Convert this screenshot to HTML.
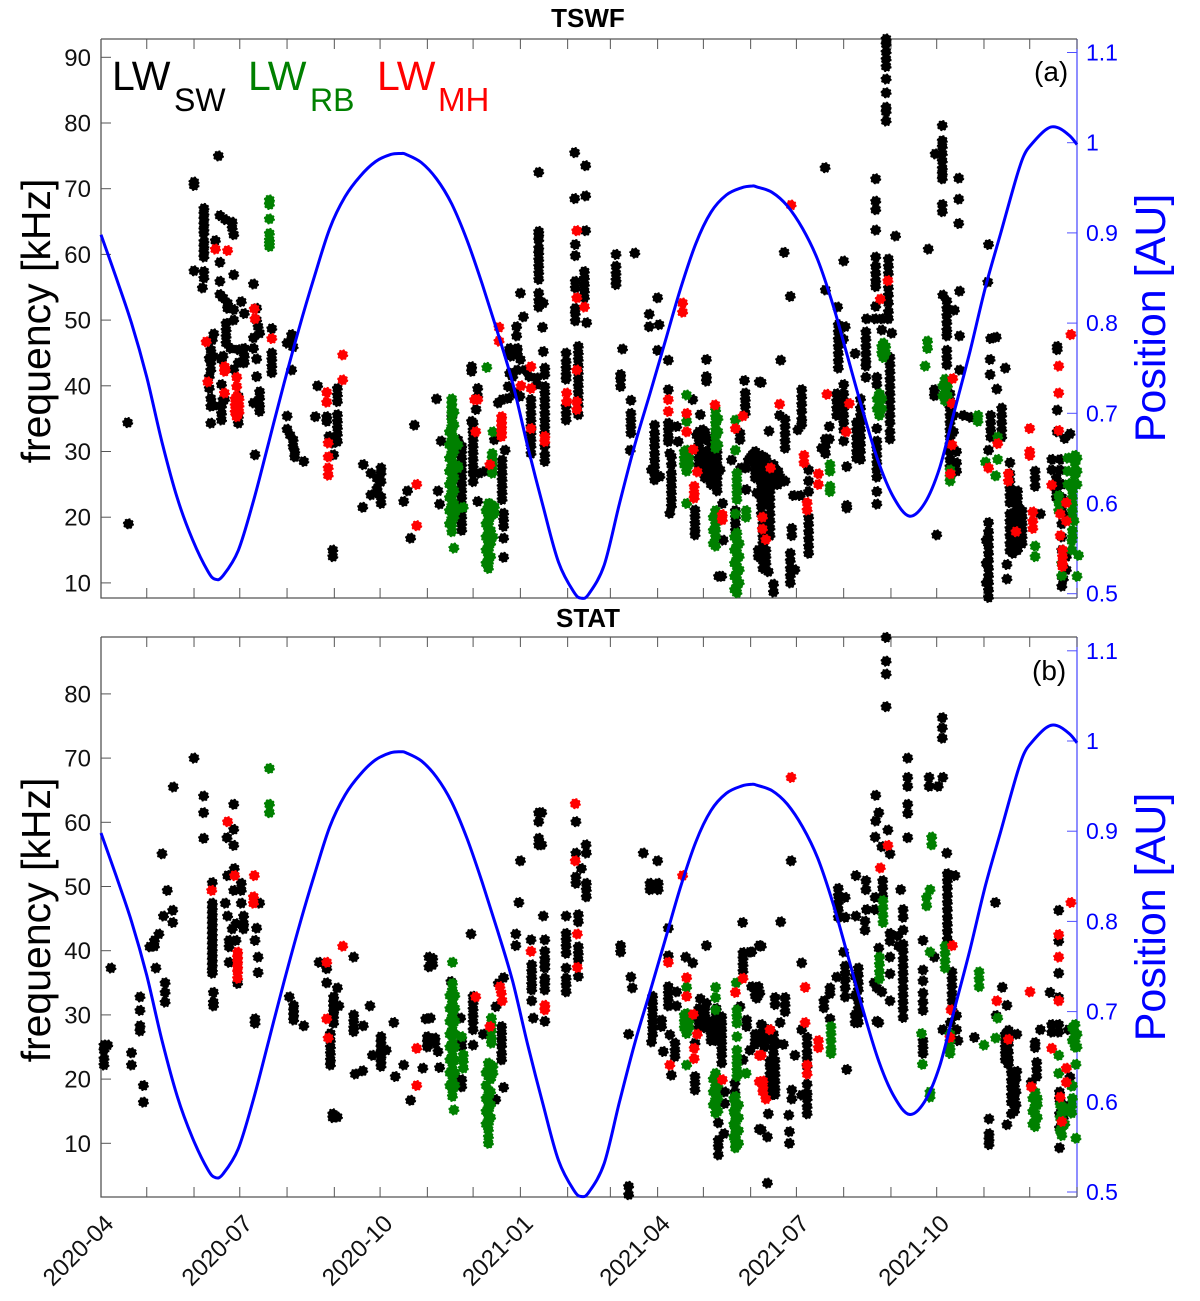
<!DOCTYPE html>
<html lang="en">
<head>
<meta charset="utf-8">
<title>TSWF and STAT Langmuir wave frequency</title>
<style>
html,body{margin:0;padding:0;background:#fff;}
svg{display:block;font-family:"Liberation Sans",sans-serif;}
</style>
</head>
<body>
<svg id="chart" xmlns="http://www.w3.org/2000/svg" width="1200" height="1301" viewBox="0 0 1200 1301">
<rect x="0" y="0" width="1200" height="1301" fill="#fff"/>
<g id="axes"></g>
<g id="marks"></g>
<g id="curves"></g>
<text x="588" y="27" font-size="26" font-weight="bold" text-anchor="middle">TSWF</text>
<text x="588" y="627" font-size="26" font-weight="bold" text-anchor="middle">STAT</text>
<text transform="translate(50,321) rotate(-90)" font-size="41" text-anchor="middle">frequency [kHz]</text>
<text transform="translate(50,920) rotate(-90)" font-size="41" text-anchor="middle">frequency [kHz]</text>
<text transform="translate(1165,318) rotate(-90)" font-size="43" fill="#0000ff" text-anchor="middle">Position [AU]</text>
<text transform="translate(1165,917) rotate(-90)" font-size="43" fill="#0000ff" text-anchor="middle">Position [AU]</text>
<text x="1034" y="81" font-size="28">(a)</text>
<text x="1032" y="680" font-size="28">(b)</text>
<g>
<text x="112" y="90" font-size="41" fill="#000">LW</text>
<text x="174" y="111" font-size="32" fill="#000">SW</text>
<text x="248" y="90" font-size="41" fill="#008000">LW</text>
<text x="310" y="111" font-size="32" fill="#008000">RB</text>
<text x="377" y="90" font-size="41" fill="#ff0000">LW</text>
<text x="438" y="111" font-size="33" fill="#ff0000">MH</text>
</g>
</svg>
<script>
// Each row: [days since 2020-04-01, frequency kHz, frequency kHz, ...]
const tswfBlack = [
[17.5,34.4],[18,19],[77,75],[61,70.5,71],
[67.5,67,66.2,65.4,64.6,63.8,63.2,62,61.2,60.4,59.6,57.4,56.4],[61,57.5],[66.5,54.9],[75,62.1],
[78,65.9,58.8,55.9,53.9],[87,63,56.9,51.6,50,42.5],[80,53.4,44.5,37.9],[83,52.6,51.8],[92,52.8],[94,51],[100,55.5],[81.5,65.3],[86,64.9,64],
[102,51.8,50,44.1,41.4],[103,49],[104,48,39.1,38.1,37,36.1],[100,47.3,45.7,37.4],[101,29.5],
[82,49.5,48.5,47.5,46.5],[85,45.7],[90,45.5,43.5,38.4,36,35.3,34.3],[94,45.7,44.5,43.5],
[74,47.9,37],[73,47],[72,45.5,43.5,42.4,38.1,36.9,34.3],[71,44.2,41.4,39.6],[73.5,44.5],
[79,40.2,36.9,35.8,34.8,44],[81,37.9],
[112,48.7,45,44,43,42],[125,47.8,42.4],[124,46.8],[122,46.5,35.4,33.4],[126,45.9,31.8,30.8],[124,32.5],[127,30,29.2],[133,28.5],
[142,40],[140.5,35.3],[148,35.3,34.6],[155,39.6,38.6,37.6,35.6,34.6,33.6,32.6,31.5],[149.5,32.3],[152,31.3,15,14],[152.5,29.5],[205.5,34],
[172,28],[183.6,27.5,26.7,25.4,23.1,22.1],[177,26.7,23.4],[181,25.9,24.4,23.7],[171.6,21.5],[198.5,22.4],[201,24],[203,16.8],
[220,38],[222,22],[221,24],[223,31.6],[230,35.3],[236.5,30.8,30,29,28,27,26,25,24,23,22,21,20,19,18],[234,31.8],
[243,42.9,42.2,34.6],[244,34.3,33.3,32.8,31.8,30.8,29.8,28.8,27.8,26.8,26.7,25.4],[247,39.6,38.4,22.4],[246,36.4],[248,26.7],[252,27],
[263,37.9,28.7,27.7,26.7,25.7,24.7,23.7,22.7],[260.5,37.4],[267,38.1,45,39.9],[258,31.8],[265,30.2],[264,20.6,19.6,18.6,16.8,13.9],
[287,72.5,63.5,63,62.2,61,60.2,59.2,58.2,57.2,56.2,54.1,53,52],[290,52.6,45.2],[289.5,48.9],[291,42.7,41.7,39.9,38.9,37.9,36.9,35.8,34.8,33.8,32.8,30.8,28.5,29.5],
[275,54.1,44],[277,50.5],[272.5,49,47.6],[268,45.7,41.9],[273,45.7,45,42.4],[269,44.5],[278,42.4],[271.5,38.9],[270,41.4],[281,41.4],[285.7,41.2,40.2],[274.7,38.4],
[282,37.9,36.9,35.8,34.8,33.8,32.8,31.8,30.8,29.7],
[305,45,43.7,42.7,41.7,41,36.9,35.8,34.8],[313,46,45,44,43,42,41,40,39,38,37,35.6],
[310.6,75.5,68.5],[317.8,73.5,68.9,63.6],[311,61.5,59.8,55.9,54.9,51.8,51,49.9],[317,57.4,56.4,55.4,54.4,53.4],[318.4,49.6],
[337.7,60,58.2,57.1,56.1,55.4],[350,60.2],[342,45.6],[340.7,41.7,41,39.9],[347.5,37.8,35.8,34.8,33.8,32.8],[347,30.2],
[365,53.4,45.4],[359.5,50.9,49],[366,49.3],[372,43.9,39.4,34.3,33.3,32.3,31.5],
[363,34,32.8,31.8,30.8,29.7,28.7,27.7,26.7,25.7],[361,27.2],[366.5,26.2],[373,29.7,20.6],[374,29.2,28,26.7,25.7,24.7,23.7,22.7,21.7],[377.5,33.8],[378.5,31.5],
[388,37.9],[393,35.6,29.7],[389.5,21.1,20.1,19.1,18.1,17.3],[397,44,41.4,40.7,31.8,28.7],[407.6,22.1],
[394.5,33.3],[390.6,32.5],[401,30.8],[401.5,28.7,25.7],[404,27.2],[406,27.2],
[392,33,32,31,30,29,28],[396,33,32,30,29,28,27,26],[400,32,31,30,28,27,26,25],[404,31,30,29,28,26,25,24],
[422,40.8],[422.5,38.9,37.9,36.9,35.8],[431.7,40.6],[407,11],[405,11],[416,21,20,19,18],[408,16.5],
[419,32.8,31.8],[413.5,28.7],[424.5,28.7],[419.5,27.5],[423,27.5,24.2],[430,23.7],
[429,30,29,28,27,26],[436,29,28,27,26,25,24,23,22],[441,28,27,26,25],[444,27,26,25],[434,19,18,17,16],[431,15,14],[436,15,14,13],
[433,40.5,29.4,28.3,27.2,26.1,25,23.9,22.8,21.7,20.5],[438.7,26.1,25,23.9,22.8,21.7,20.5,19.4,18.3,17.2],[434,14.5,13.4,12.2],[437.6,11.7],[441,9.8,8.6],[448.6,25.5],[445.3,26.1],[438,33.1],[426.7,29.4],
[448.6,34.9,33.8,32.7,31.6,30.5],[445,35.5],[453,18.3,17.2],[452,53.6,14.5,13.4,12.2,11.1,10],[455,12],[454,23.3],[458.4,23.3],
[459.5,39.4,38.3,37.2,36.1,34.9,34.1],[457,33.3],[448,60.3],[445.7,43.9],[464,27.2,25.5,23.9,20,18.9,17.8,16.7,15.6,14.5],
[474.8,73.2],[475,54.6,31.9,30.8,29.7],[477.6,33.8,31.9],[472.6,30.5],[487,59,40.2,38.8,37.7,36.6,35.5,34.4,33.3,31.6],[483,52],
[483.5,49.3,48.2,47.1,46,44.9,43.8,42.7],[488,49],[494.5,44.9],[486.8,47.1],[482.4,38.8,37.7,36.6,35.5],[489,27.7,21.4,21.8],
[498,38,36.6,35.5,34.4,33.3,32.2,31.1,30,28.8],[495.5,34.4,33.3,32.2,31.1,30,29],
[501.6,48.2,47.1,46,44.9,43.8,43,41.3],[502,50.2],[507.6,50.2],[508,71.5,68.1,66.8,63.7,59.6,58.2,57.1,56,55.1,52.1],
[516.3,59.3,58.2,57.1,54.9,53.8,52.6,51.3,50.2],[518.5,48],[512,50.2,48.5],[517.4,44.3,43.2,42.1,41,39.9,38.8,37.7,36.6,35.5,34.4,33,31.9],
[508.7,41.3,40.2,33.5,31.6,30.5,29.4,28.3,27.2,26.1,23.9,22],[514.8,92.8,92,90.8,89.7,88.6,86.7,84.6,82.4,81.7,80.3],
[521,62.8],[542.5,60.8],[546.5,39.4,38.5],[551.7,79.6,77.3,76.4,75.3,74.2,73.1,72.3,71.5,67.6,66.5],[547,75.3],[552,53.8],
[554.6,52.9,51.8,50.7,49.6,48.5,47.6,45.4,44.3,43.2],[562.4,71.6,68.4,64.7],[563,54.4,47.6,42.4],[559.6,51.5],
[556.7,38.8,37.7,36.6,35.5,34.4,33.3,32.2,31.1,30,28.8,27.7],[561,28.3,30,27],[565.5,35.5],[570,35.2],[559,35.5,33],[548,17.3],
[582,61.5,30.2],[581.5,55.8],[583.4,47.2,35.5,34.4,33.3,32.2],[587,47.4],[583,44,41.7],[593,42.7],[587.4,39.5],[590.6,36.6,35.5,34.4,33.3,32.2],
[582,19.2,17.8,16.7,15.6,14.5,13.4,12.2,11.1,10,8.9,7.8],[580.5,16.5,13,10],[594,12.8,10.6],
[596,28.3,26.6,25.5,24.4,23.3,22.2,20.5,19.4,18.3,17.2,16,14.9],[600.5,21.1],[603,16.7],[600,15,15.5],[598,15,16,14.5],
[601,24,23,22,20,19,18,17,16,15],[604,21,20,19,18,17,16],
[612.5,27,25.9,24.7],[616,20.5],[627,46,45.5,36.3,33],[635.4,32.7],[623.5,28.8,27.2],[629,28.8,27.2],[630,25,23,21,19,17,15,13,11,9.5],[631,10.6],[633,20,14,12],[632,32],[626.5,26,25,24,23]
];
const tswfGreen = [
[110.4,68.3,67.6,65.4,63.2,62.2,61.7,61.2],
[230,38,37.3,36.6,35.8,34.8,33.8,32.8,31.8,30.8,29.8,28.8,27.8,26.8,25.8,24.8,23.8,22.8,21.8,20.8,19.8,18.8,17.8],[234,31,27.8,27.5],[237.5,21.5],[233,21],[231.4,15.3],
[231.5,36,34,32,30,28,26,24,22,20],[228.5,33,31,29,27,25,23,21,19],
[253,42.8],[257,33],[256.5,29.7,29,28.2,27.5,26.7],
[254,22.1,21.1,20.1,19.1,18.1,17.1,16.1,15.1,14.1,13.1,12.2],[258,21.6,20.6],[257,17],[255.5,22,20,18,16,14],[252.5,21,19,17,15,13],
[384,38.6,34.6,30.2,29.2,28.2,27,22.1],[385.5,30,29,28],[382.5,30,29,28],[403,36.3,35.3,34.3,33.3,32.3,31.3,30.5],[404.5,35,33,31],[416,34.8,30.2,20.5],
[417,26.7,25.7,24.7,23.7,22.7,17.6,16.6,15.6,14.6,13.6,12.5,11.5,10.5,9.5,8.5],[418.5,16,14,12,10],[415.5,17,15,13,11,9],[423,21,20],[403,21,20,19,18,17,15.6],[401.5,20,18,16],
[513,46.5,45.4,44.3],[512,46,45],[514.5,46,45],[510.4,38.8,37.7,36.6,35.5],[509,38,36.5],[512,38,36.5],[542,46.8,45.7],[540.4,43],[553.5,41,39.9,38.8,37.7],[552,40,38.5],[555,40,38.5],[575,35.5,34.6],
[588,32.2,28.8],[580,28.4],[586.6,26.3],[556.8,27.2,26.2,25.5],[478,28,27,24.7,23.9],[612.5,15.6,14],
[638.7,29.4,28.3,27.2,26.4],[636.5,25.2],[628,23.3,22.2,21],[638,19.4],[636.6,16.4,15],[641,14.2],[640,11],[630,11.1,13],[637,24,23,22,21,20,18,17],[634,29,27,25],[640,29,27,25]
];
const tswfRed = [
[69,46.7],[70,40.6],[75,60.8],[83,60.6],[81,42.9,42.2,38.9],[81.5,42.5],[89,41.3,39.9,38.4,37.6,36.9,36.1,35.3],[88,38,37,36],[90.5,38,37,36],[100.5,51.7],[101,50.2],[112,47.2],
[148,39,37.5],[149,31.3,29.2,27.5,26.4],[158.5,44.7,40.9],[207,25,18.7],
[247,37.9],[245,37.9],[245.7,33],[255,28],[261,48.9,46.8],[262.7,35.3,34.5,33.8,33,32.3],[275.4,40],[282,42.9,39.6,33.5],[291,32.3,31.5],
[305.3,38.9,37.6],[312,63.6,53.4,42.4,37.6,36.4],[317,52],[381.4,52.6,51.2],[372,37.9,36.1],[384,35.8,33],[402.6,37.1],[388.4,30.3],[391,26.9],
[389,24.7,23.7,22.9],[407.4,20.4,19.6],[421,35.4],[416,33.5],
[452.5,67.5],[445,37.2],[476,38.7],[490.7,37.3],[488.6,33],[516,56],[511,53.2],[439,27.5],[461,29.4,28.3],[470.4,26.6,25],[463,22.2,21.1],
[433.7,20,18.2],[436,16.6],[558.5,41.1],[558,37.3,31],[557,26.6],[588,31.2],[582,27.5],[595,26.6,25.5],[609,33.5,30,29.4],[600,17.8],[611,20.8,19.4,18.3],
[628,43,38.9,33.2],[636,47.8],[623.4,24.9],[633,22.2,19.4],[629,20.5,17.2],[630.5,15,14,13,12.5]
];
const statBlack = [
[2,25.3,24.5,23.2,22.2],[4.4,25.3],[6.5,37.3],[20,24.1,22.2],[25.6,32.8,30.7,28.3,27.5],[27.8,19,16.4],[32,40.6],[35,40.7,41.6],[38,42.6],[36,37.3],
[40,55.1],[43.5,49.4],[41,45.4],[47,46.3,44.4],[42,35,33.5,32],[47.4,65.5],[61,70],[67.3,64.1,61.5,57.5],
[73,50.6,47.4,46.6,45.8,45,44.2,43.4,42.6,41.8,41,40.2,39.4,38.6,37.8,37,36.5],[73.7,33.5,32,31.4],
[87,62.8,58.9,56.4,49.4],[82.6,57.6],[87.4,52.8],[83,51.7,45.4],[92,50.5,49.4,47.4],[81.5,47.4],[93.5,45.4,44.2,43.4],[88.5,44.2,41.6],[86,43.4],[84,41.6,40.6,38.2],[89.6,34.9],
[104,47.4],[102,43.5],[101,41.6,29.4,28.7],[103,39,36.6],[143,38.2],[148,37.2,35],[155,34.2],[152.5,32.8,32,31.3,30.5,29.7,28.7],[156,31.4],
[150.4,27.1,26,25,24,23,22.2],[165.7,39,30,29,28,27.4],[176.4,31.4],[172,28.3],[152,14.6,14],[155,14.1],
[183.6,26.6,25.8,25,24.2,23.5,22.7,22],[178,23.7],[187,24.5],[192,28.8],[198.5,22.2],[193,20.4],[171.6,21.3],[166.6,20.8],[203,16.7],[211,21.7],[213,29.4],[214,26.6,25.8,25],[215,39,37.5],
[123.5,32.8],[126.3,31.5,30.7,30,29.2],[133,28.3],
[217.5,38.8,37.8],[216,29.5],[219,26.4,25.6],[221,24.3],[222,21.8],[242.6,42.6],[244,32.9,31.9,30.9,29.9,28.9,27.7,25.3],[250.7,27],[229.5,35.2],[235.8,29.5],[236.5,26,25,19.9,18.8],
[264,35.8,18.7],[260.5,34.9],[259,31.3],[262.7,28.2,27.2,26.2,25.2,24,23],[258.8,16.8],[275,54],[274,47.5],[272,42.6,40.8],
[287,61.5,60.1,57.5,56.5],[289,61.5,56.5],[290,45.4],[282,41.7],[282.4,37.8,36.8,35.8,34.8,33.9,32.2],[283.5,29.5],
[291,41.7,39.9,38.8,38,37.3,35.7,34.9,33.9,29],[305,45.4,42.7,41.7,40.7,39.6,37.3,35.7,34.7,33.6],[313,45.6,44.5,40.6,39.6,38.6,36],
[311.4,60.1,55.2,51.5,50.5],[318,56.5],[318.2,55.2,50.5,49.5,48.4],[315,52.8],[340.7,40.8,39.8],[347.5,35.9],[348.4,34.2],[346,27,3.3,2],
[355.6,55.2],[365,54],[360,50.5,49.5],[365.4,50.5,49.5],[372,43.5,39.2,34.4,33.4,32.4,31.4],[397,40.8,31.8],[420.7,44.4],[421,39.7,38.8,37.8,36.8],[425.5,39.8,24.5],[431.7,40.8],
[361.7,32.9,31.9,30.9,29.9,28.9,27.9,26.9],[361,25.8],[367.6,29.2,28.2],[368.7,24.3],[373,26.9],[376.4,25.6,24.5,23.5],[374,20.6],[377.4,33.6,31.4],[383.4,39],[388,38.1],
[389.5,25.6,20.4,19.4,18.3],[393,32.5],[400,29,28,27,26],[407,29.7,28.7,27.7,26.7,25.7,24.7,23.7,22.5],[409,18,16.2],[404.8,13.2,10.5,9.5,8.2],[408.5,11.5],
[415.7,19.4,18],[419,31.3],[423.4,29.2,28.2],[426.6,34.4],[431,34.4],[429,33],[421,23],[431.7,12.2],
[392,31,30,29,28],[396,31,30,29,28],[403.5,31,30,29,28,27,26],
[514.8,88.8,85.1,83.1,78],[452.5,54],[445.7,44.5],[433,40.7,28.5,27.1,26,12.1],[426.7,39.8],[459.5,38.1,27.7,17.5],[430,34.2,33.4,32.6],[432,33.4],
[429,27,26],[435,28,27,26,25],[441,27,26,25,24],
[442,32.7,31.6,22.9,21.8,20.7,19.6,18.5,17.6],[448.6,32.7,31.6,30.5],[445.3,28.8],[438.7,27.7,26.3,22.8,22,20.8,19.7,18.5,17.5],[429,25.4],[443,25.6],[447.5,25.4],[437.6,14.6],[437,11,3.8],
[453,18.3,16.9],[451,14.4],[451.4,11.8,10],[455,23.7],[463,26.5,25.4,24.2,23.2,22,19.2,17.8,16.9,15.7,14.6],
[489,21.5],[474,32.2,31.1],[478,34.2,33.3,29.4],[483.5,49.7,48.6,47.5,46.4,45.2],[488,48.3,45.2],[495,51.7,45.4],[501.6,50.9,49.5],[507.6,48.3,46.4],[502,46.4],[501,44.6,43.2],
[508,64.2,60.2],[510,61.5],[507.6,57.7],[512,56.2,33.6],[516,58.8],[517.4,55.1,42.7,41.5,39,36.4,32.2],[512.6,50.9,49.8,48.6],[524.4,49.5],
[487,39.8],[482.4,35.9],[488,37.6,36.5,35.4,34.2,32.8],[496.6,37.3,36.2,35,33.9,32.2,31,30,28.8],[494.5,36,33,30,28.8],
[508.7,34.2,29],[510,40.4],[507,35],[510,28.8],[523,40.7],[526,41,39.9,38.7,37.6,36.5,35.4,34.2,33.1,32,30.9,29.6,46.4,45.2,43.2],[522.5,42.3],
[529,70,67,65.6,62.8,61.4,57.6],[543,67,65.6],[549,65.6],[552,67],[551.7,76.3,74.7,73.1],[554.6,55.2],[539,41.6,37,35.3,33.4,32,30.7,26,25,24],[546.5,39],
[555,52,50.9,49.8,48.6,47.5,46.4,45.2,44.1,43,41.8],[560,51.7],[558,36.7,35.6,34.5,33.3,32.2,31],[561,29.9,27.7],[557,28.8,26.5],[552,27.7],[562,26],
[572.7,26.5],[586.5,47.5],[591,34.3],[587,29.9],[594,31.5,12.9],[595,27.6,26.5,25.4,24.2,23.1,22.3],[600.5,27,21.2],[597,21,19.8,18.7,17.5,16.4,14.6],[600,20,18,16],
[593,27,26,25,24,23],[599,20,19,18,17,16,15],
[582.3,13.8,11.5,10.6,9.8],[612.5,25.7,24.9],[616,27.7],[623.4,28.5,27.3],[628,28.5,27.3,32.7,46.3,41.5,36.5],[634.4,27.7],[613.6,22.6,21.5,20.4],[610,19.5],[622.3,33.5],
[628.5,18,16.9,14.6,12.4,9.3],[635.4,20.3],[631,16,14]
];
const statGreen = [
[110.4,68.4,62.8,61.5],
[230.4,38.2,34.9,33.9,32.9,31.9,30.8,29.8,28.8,27.7,26.7,25.6,24.6,23.6,22.5,21.5,20.5,19.5,18.3,17.3],[231.4,15.2],[237.6,23.8,22.8,21.7],[236.5,26.6],[228.8,33,31,29,27,25,23,21,19],[232,33,31,29,27,25,23,21,19],
[256,29.5,28.5,27.5,26.4,25.6],[254,22.5,21.5,20.4,18.3,17.3,16.2,15.2,14.2,13.1,12.1,11,10],[257,22,20.9],[252.5,21,19,17,15,13],[255.5,20,18,16,14],
[384,34.3,30.2,29.2,28.2,27.1,22.2],[382.5,30,29,28],[385.5,30,29,28],[403,34.3,32.7,30.8,20.9,19.9,18.9,17.8,16.8,15.8,14.7],[401.5,20,18,16],[404.5,19,17,15],[416.6,35],[417,30.8,29.8,28.7,26.6,24.5,23.4,22.4,21.4,20.4],[423,20.9],
[416,17.3,16.3,15.2,14.2,13.2,12.2,11.1,10.1,9.3],[415,17,15,13,11],[418,16,14,12,10],
[544.7,57.7,56.5],[543.6,49.5,39.8,18,17.2],[541.4,47,48.3],[553.5,40.7,39.6,38.4,37.3],[538,27.1],[538.6,22.3],[556.7,27,25.9,24.8,24],
[512.8,47.8,46.7,45.5,44.4],[510.4,39,37.9,36.7,35.6],[478.7,28.2,27.1,26,24.8,24],[588,29.5],[586.7,26.4],[579,25.3],[575.8,36.7,35.6,34.4],
[612.5,18,16.9,15.8,14.6,13.5,12.6],[614,17],[611,17,15,13],[614,16,14],[628,23.7,20.9],[639.3,22.3,10.8],[638.7,28.5,27.1,26,25],[636.5,18.9,15.8,14.7],[630,15.8,14.7,13.6,12.4,11.2],[629,16,14,12],[632,15,13],[637,28,26,19,17],[640,27,25]
];
const statRed = [
[83,60.1],[87.6,51.7],[100.5,51.7],[72.6,49.4],[100,48.4,47.4],[89.6,39.8,39,38.3,37.5,36.7,35.7],[148,38.2,29.4],[158.5,40.7],[149,26.4],[207,24.8,19],
[311,62.9,54],[312.3,42.6,37.4],[245.7,32.8],[255,28.2],[261.6,34.4],[262.5,33.4],[263,32.2],[282,39.9],[291,31.5,30.8],[381.4,51.7],[372,38.2],[384,35.8,32.9],[388.4,30.1],[391,27],[389,24.8,23.2],[373,22.2],[421,35.7],[416,33.5],[407.4,19.9],[431.7,23.7,19.6],
[452.5,67],[511,52.9],[516,56.4],[461.7,34.3,28.8],[438.7,27.7],[433,23.7],[434,19.7,18.8,18],[436,16.9],[463,22.2,20.8],[470.4,26,24.9],[558.3,40.8],[557.4,30.8],[556.7,26.5],[595,26.2],[609.2,33.6],[587.4,32.2],[610,18.8],[628,42.5,39,32.2],[636,47.5],[623.4,24.8],[633,21.7,19.5],[629,17.2],[630,13.4]
];
// Spacecraft heliocentric distance
const orbitDays = [0,10,20,30,40,50,60,70,75,80,90,100,110,120,130,140,150,160,170,180,190,197,200,210,220,230,240,250,260,270,280,290,300,310,315,320,330,340,350,360,370,380,390,400,410,420,427,430,440,450,460,470,480,490,500,510,520,530,540,550,560,570,580,590,600,605,610,620,627,635,640];
const orbitAU = [0.898,0.85,0.80,0.74,0.668,0.606,0.56,0.525,0.516,0.52,0.548,0.603,0.668,0.733,0.795,0.852,0.905,0.94,0.963,0.979,0.987,0.988,0.987,0.978,0.96,0.932,0.892,0.843,0.79,0.733,0.662,0.596,0.535,0.502,0.495,0.50,0.532,0.60,0.665,0.722,0.78,0.838,0.888,0.923,0.942,0.95,0.952,0.951,0.945,0.93,0.905,0.87,0.82,0.76,0.70,0.645,0.606,0.586,0.60,0.64,0.705,0.77,0.84,0.90,0.96,0.985,0.998,1.015,1.017,1.008,0.998];
// Axis ticks
const monthTickDays = [0,30,61,91,122,153,183,214,244,275,306,334,365,395,426,456,487,518,548,579,609,640];
const dateLabels = ["2020-04","2020-07","2020-10","2021-01","2021-04","2021-07","2021-10"];
const dateLabelDays = [0,91,183,275,365,456,548];
const freqTicksA = [10,20,30,40,50,60,70,80,90];
const freqTicksB = [10,20,30,40,50,60,70,80];
const auTicks = [0.5,0.6,0.7,0.8,0.9,1,1.1];

const NS = 'http://www.w3.org/2000/svg';
const PLOT = {left:101,right:1077};
const xDay = d => PLOT.left + d * (PLOT.right - PLOT.left) / 640;
const panels = [
  {id:'a',top:39,bottom:598,y:f => 57.3 + (90 - f) * 6.57,au:p => 593.7 - (p - 0.5) * 902,ticks:freqTicksA,black:tswfBlack,green:tswfGreen,red:tswfRed},
  {id:'b',top:637,bottom:1197,y:f => 1143.3 - (f - 10) * 6.42,au:p => 1192 - (p - 0.5) * 902,ticks:freqTicksB,black:statBlack,green:statGreen,red:statRed}
];
const axesLayer = document.getElementById('axes');
const marksLayer = document.getElementById('marks');
const curveLayer = document.getElementById('curves');

function svgEl(tag, parent, attrs){
  const el = document.createElementNS(NS, tag);
  Object.keys(attrs).forEach(k => el.setAttribute(k, attrs[k]));
  parent.appendChild(el);
  return el;
}
function smoothPath(xs, ys){
  let d = 'M' + xs[0].toFixed(1) + ' ' + ys[0].toFixed(1);
  for (let i = 0; i < xs.length - 1; i++) {
    const a = Math.max(i - 1, 0), c = i + 1, e = Math.min(i + 2, xs.length - 1);
    const c1x = xs[i] + (xs[c] - xs[a]) / 6, c1y = ys[i] + (ys[c] - ys[a]) / 6;
    const c2x = xs[c] - (xs[e] - xs[i]) / 6, c2y = ys[c] - (ys[e] - ys[i]) / 6;
    d += 'C' + [c1x, c1y, c2x, c2y, xs[c], ys[c]].map(v => v.toFixed(1)).join(' ');
  }
  return d;
}
function drawSeries(panel, rows, color, seriesName){
  const group = svgEl('g', marksLayer, {fill:color,stroke:color,'stroke-width':1.5,'stroke-dasharray':'1.885 1.885'});
  
  
  rows.forEach(row => {
    row.slice(1).forEach(freq => {
      const dot = svgEl('circle', group, {cx:xDay(row[0]).toFixed(1),cy:panel.y(freq).toFixed(1),r:4.8});
      
      
    });
  });
}
panels.forEach(panel => {
  const gray = '#555';
  const frame = svgEl('path', axesLayer, {d:`M${PLOT.left} ${panel.top}H${PLOT.right}M${PLOT.left} ${panel.top}V${panel.bottom}H${PLOT.right}`,fill:'none',stroke:gray,'stroke-width':1.3});
  
  
  const rightAxis = svgEl('line', axesLayer, {x1:PLOT.right,x2:PLOT.right,y1:panel.top,y2:panel.bottom,stroke:'#5050ff','stroke-width':1.3});
  
  
  monthTickDays.forEach(d => {
    const x = xDay(d);
    const t1 = svgEl('line', axesLayer, {x1:x,x2:x,y1:panel.top,y2:panel.top + 10,stroke:gray,'stroke-width':1});
    
    
    const t2 = svgEl('line', axesLayer, {x1:x,x2:x,y1:panel.bottom,y2:panel.bottom - 10,stroke:gray,'stroke-width':1});
    
    
  });
  panel.ticks.forEach(f => {
    const y = panel.y(f);
    const tick = svgEl('line', axesLayer, {x1:PLOT.left,x2:PLOT.left + 10,y1:y,y2:y,stroke:gray,'stroke-width':1});
    
    
    const label = svgEl('text', axesLayer, {x:PLOT.left - 10,y:y + 8.5,'font-size':24,'text-anchor':'end',fill:'#111'});
    
    
    label.textContent = f;
  });
  auTicks.forEach(p => {
    const y = panel.au(p);
    const tick = svgEl('line', axesLayer, {x1:PLOT.right - 10,x2:PLOT.right,y1:y,y2:y,stroke:'#5050ff','stroke-width':1});
    
    
    const label = svgEl('text', axesLayer, {x:PLOT.right + 9,y:y + 8,'font-size':23,fill:'#0000ff'});
    
    
    label.textContent = p;
  });
  drawSeries(panel, panel.black, '#000000', 'lw-sw');
  drawSeries(panel, panel.green, '#008000', 'lw-rb');
  drawSeries(panel, panel.red, '#ff0000', 'lw-mh');
  const curve = svgEl('path', curveLayer, {d:smoothPath(orbitDays.map(xDay), orbitAU.map(panel.au)),fill:'none',stroke:'#0000ff','stroke-width':3,'stroke-linejoin':'round'});
  
  
});
dateLabels.forEach((text, i) => {
  const bx = xDay(dateLabelDays[i]) + 14;
  const label = svgEl('text', axesLayer, {transform:`translate(${bx.toFixed(1)},1225) rotate(-45)`,'font-size':24,'text-anchor':'end',fill:'#111'});
  
  
  label.textContent = text;
});
</script>
</body>
</html>
